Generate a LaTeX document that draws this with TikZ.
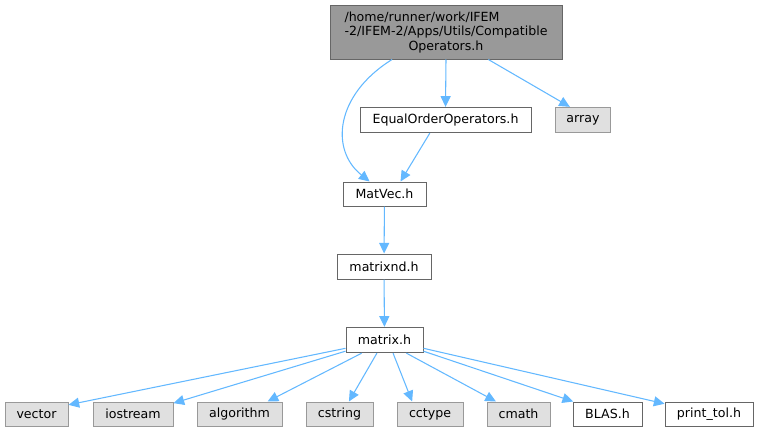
\documentclass[tikz,border=0pt]{standalone}
\usepackage{fontspec}
\setmainfont{DejaVu Sans}
\usetikzlibrary{arrows.meta}
\definecolor{azulflecha}{HTML}{63B8FF}
\definecolor{grisclaro}{HTML}{E0E0E0}
\definecolor{grismedio}{HTML}{999999}
\definecolor{grisoscuro}{HTML}{666666}
\begin{document}
\begin{tikzpicture}[x=0.75pt,y=-0.75pt,
    archivo/.style={draw=grisoscuro, fill=white, line width=0.75pt, inner sep=0pt,
      minimum height=19pt, font=\fontsize{9.45}{11}\selectfont},
    sistema/.style={archivo, draw=grismedio, fill=grisclaro},
    raiz/.style={archivo, fill=grismedio, minimum height=40.5pt, minimum width=174pt, align=center},
    flecha/.style={draw=azulflecha, line width=0.8pt, -{Triangle[length=8pt,width=7.5pt]}}]
      % Marco del dibujo
      \useasboundingbox (0,0) rectangle (759,432);

      % Cabecera principal
      \node[raiz] (compat) at (446,32)
        {\begin{tabular}[b]{@{}l@{}}/home/runner/work/IFEM\\-2/IFEM-2/Apps/Utils/Compatible\end{tabular}\\Operators.h};

      % Segundo nivel
      \node[archivo, minimum width=128.25pt] (equal) at (445.5,120) {EqualOrderOperators.h};
      \node[sistema, minimum width=41.25pt] (array) at (583,120) {array};

      % Cadena central
      \node[archivo, minimum width=62.25pt, minimum height=18pt] (matvec) at (384.5,194) {MatVec.h};
      \node[archivo, minimum width=70.5pt, minimum height=18.75pt] (matrixnd) at (384,266.5) {matrixnd.h};
      \node[archivo, minimum width=57.75pt] (matrix) at (384.5,340) {matrix.h};

      % Fila inferior
      \node[sistema, minimum width=47.25pt, minimum height=18pt] (vector) at (36.5,414) {vector};
      \node[sistema, minimum width=60pt, minimum height=18pt] (iostream) at (133,414) {iostream};
      \node[sistema, minimum width=63.75pt, minimum height=18pt] (algorithm) at (239.5,414) {algorithm};
      \node[sistema, minimum width=50.25pt, minimum height=18pt] (cstring) at (339.5,414) {cstring};
      \node[sistema, minimum width=49.5pt, minimum height=18pt] (cctype) at (430,414) {cctype};
      \node[sistema, minimum width=47.25pt, minimum height=18pt] (cmath) at (518.5,414) {cmath};
      \node[archivo, minimum width=51.75pt, minimum height=18pt] (blas) at (607.5,414) {BLAS.h};
      \node[archivo, minimum width=66pt, minimum height=18pt] (printtol) at (709,414) {print\_tol.h};

      % Dependencias de la cabecera
      \draw[flecha] (compat.207) .. controls (335,95) and (330,150) .. (matvec.140);
      \draw[flecha] (compat.south) -- (equal.north);
      \draw[flecha] (compat.-33) -- (array.135);
      \draw[flecha] (equal.220) -- (matvec.38);
      \draw[flecha] (matvec) -- (matrixnd);
      \draw[flecha] (matrixnd) -- (matrix);

      % Dependencias de matrix.h
      \draw[flecha] (matrix.192) -- (vector.16);
      \draw[flecha] (matrix.196) -- (iostream.15);
      \draw[flecha] (matrix.210) -- (algorithm.24);
      \draw[flecha] (matrix.240) -- (cstring.53);
      \draw[flecha] (matrix.303) -- (cctype.145);
      \draw[flecha] (matrix.-31) -- (cmath.151);
      \draw[flecha] (matrix.-16) -- (blas.160);
      \draw[flecha] (matrix.-12) -- (printtol.167);
    \end{tikzpicture}
\end{document}
